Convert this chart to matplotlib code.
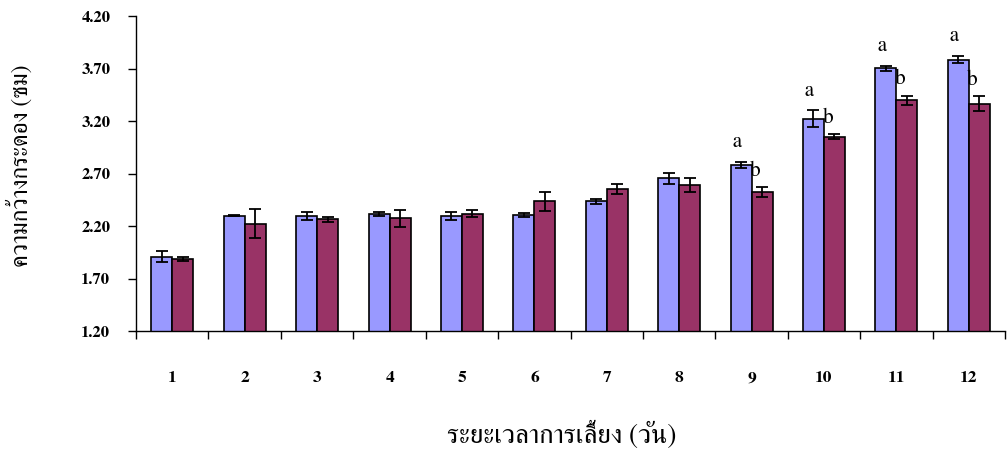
# -*- coding: utf-8 -*-
"""
ความกว้างกระดองตามระยะเวลาการเลี้ยง
"""

import numpy as np
import matplotlib
matplotlib.use('Agg')
import matplotlib.pyplot as plt
from matplotlib import rcParams
from matplotlib.ticker import FixedLocator

rcParams['font.family'] = ['FreeSerif', 'Liberation Serif', 'DejaVu Serif']
rcParams['axes.unicode_minus'] = False

# ข้อมูล
days = ['1', '2', '3', '4', '5', '6', '7', '8', '9', '10', '11', '12']
blue_vals = [1.91, 2.30, 2.295, 2.317, 2.295, 2.308, 2.435, 2.654, 2.781, 3.222, 3.702, 3.787]
blue_err = [0.05, 0.005, 0.035, 0.02, 0.035, 0.017, 0.027, 0.054, 0.03, 0.081, 0.022, 0.035]
red_vals = [1.886, 2.222, 2.264, 2.273, 2.317, 2.435, 2.555, 2.590, 2.524, 3.051, 3.40, 3.365]
red_err = [0.022, 0.137, 0.022, 0.083, 0.033, 0.092, 0.048, 0.065, 0.044, 0.022, 0.044, 0.07]
blue_marks = ['', '', '', '', '', '', '', '', 'a', 'a', 'a', 'a']
red_marks = ['', '', '', '', '', '', '', '', 'b', 'b', 'b', 'b']
yticks = [1.20, 1.70, 2.20, 2.70, 3.20, 3.70, 4.20]

x = np.arange(len(days))
width = 0.29

fig = plt.figure(figsize=(10.08, 4.5), dpi=100)
ax = fig.add_axes([0.135, 0.2644, 0.862, 0.6996])

err_kw = dict(ecolor='black', elinewidth=1.3, capsize=4.5, capthick=1.3)
ax.bar(x - width/2, blue_vals, width, yerr=blue_err, color='#9999FF',
       edgecolor='black', linewidth=1.2, error_kw=err_kw, zorder=2)
ax.bar(x + width/2, red_vals, width, yerr=red_err, color='#993366',
       edgecolor='black', linewidth=1.2, error_kw=err_kw, zorder=2)

# ตัวอักษรแสดงความแตกต่าง
for i in range(len(days)):
    if blue_marks[i]:
        ax.annotate(blue_marks[i], (x[i] - width/2, blue_vals[i] + blue_err[i]),
                    xytext=(-3, 7), textcoords='offset points',
                    ha='center', va='bottom', fontsize=15)
    if red_marks[i]:
        ax.annotate(red_marks[i], (x[i] + width/2, red_vals[i] + red_err[i]),
                    xytext=(-5, 5), textcoords='offset points',
                    ha='center', va='bottom', fontsize=15)

ax.set_xlim(-0.5, len(days) - 0.5)
ax.set_ylim(1.2, 4.2)
ax.set_yticks(yticks)
ax.set_yticklabels([f'{v:.2f}' for v in yticks], fontsize=12, fontweight='bold')
ax.set_xticks(x)
ax.set_xticklabels(days, fontsize=12.5, fontweight='bold')
ax.xaxis.set_minor_locator(FixedLocator(np.arange(-0.5, len(days), 1.0)))
ax.tick_params(axis='x', which='major', length=0, pad=29)
ax.tick_params(axis='x', which='minor', length=5.5, width=1, direction='out')
ax.tick_params(axis='y', length=5.5, width=1, direction='out', pad=13)

for s in ['top', 'right']:
    ax.spines[s].set_visible(False)
for s in ['left', 'bottom']:
    ax.spines[s].set_linewidth(1)

fig.text(562/1008, 1 - 435/450, 'ระยะเวลาการเลี้ยง (วัน)', ha='center', va='center', fontsize=19.5)
fig.text(20/1008, 1 - 166/450, 'ความกว้างกระดอง (ซม)', ha='center', va='center',
         rotation=90, fontsize=17)

fig.savefig('out.png', dpi=100)
plt.close()
